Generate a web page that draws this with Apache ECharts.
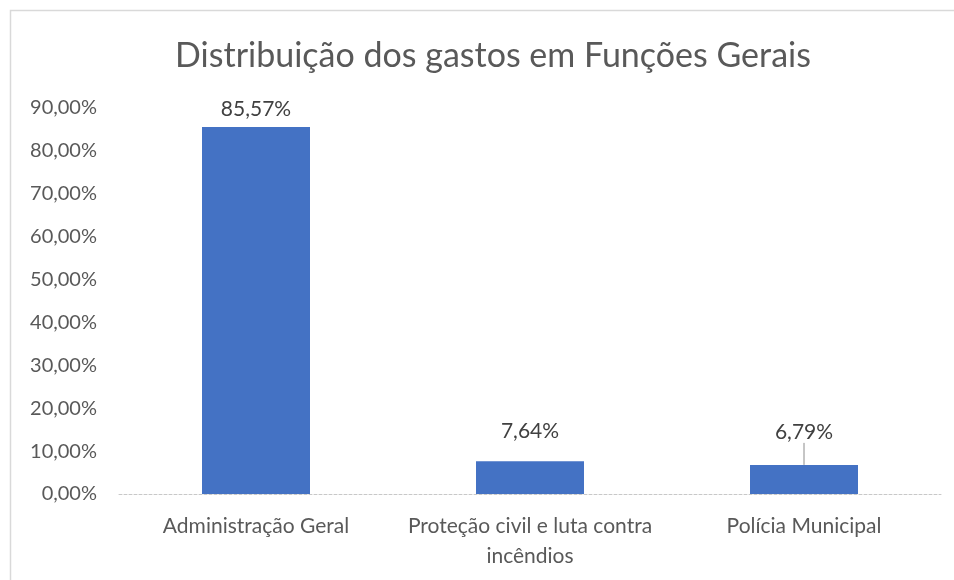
<!DOCTYPE html>
<html>
<head>
<meta charset="utf-8">
<script src="https://cdn.jsdelivr.net/npm/echarts@6/dist/echarts.min.js"></script>
<style>
    html, body { margin: 0; padding: 0; background: #fff; }
    #chart { width: 954px; height: 580px; }
</style>
</head>
<body>
<div id="chart"></div>
<script>
const title = "Distribuição dos gastos em Funções Gerais";
const categories = ["Administração Geral", "Proteção civil e luta contra\nincêndios", "Polícia Municipal"];
const values = [85.57, 7.64, 6.79];
const yTicks = { min: 0, max: 90, interval: 10 };

const font = "Lato";
const textColor = "#595959";

const fmt = v => v.toFixed(2).replace(".", ",") + "%";

const option = {
    backgroundColor: "#fff",
    animation: false,
    title: {
        text: title,
        left: 488,
        top: 34,
        textAlign: "center",
        textStyle: { fontFamily: font, fontSize: 34, fontWeight: "normal", color: textColor }
    },
    graphic: [{
        type: "polyline",
        shape: { points: [[10.5, 580], [10.5, 10.5], [954, 10.5]] },
        style: { stroke: "#d9d9d9", lineWidth: 1.5, fill: null }
    }],
    grid: { left: 119, right: 13, top: 108, bottom: 86 },
    xAxis: {
        type: "category",
        data: categories,
        axisLine: { lineStyle: { color: "#c8c8c8", type: [3, 2] } },
        axisTick: { show: false },
        axisLabel: {
            fontFamily: font, fontSize: 21, color: textColor, margin: 17, lineHeight: 30, interval: 0
        }
    },
    yAxis: {
        type: "value",
        min: yTicks.min,
        max: yTicks.max,
        interval: yTicks.interval,
        splitLine: { show: false },
        axisLine: { show: false },
        axisTick: { show: false },
        axisLabel: {
            fontFamily: font, fontSize: 20, color: textColor, margin: 22,
            formatter: fmt
        }
    },
    series: [{
        type: "bar",
        barWidth: 108,
        data: values.map((v, i) => i === 2 ? { value: v, labelLine: { show: true } } : v),
        itemStyle: { color: "#4472C4" },
        label: {
            show: true,
            position: "top",
            distance: 7,
            fontFamily: font,
            fontSize: 21,
            color: "#404040",
            formatter: p => fmt(p.value)
        },
        labelLine: { lineStyle: { color: "#8c8c8c", width: 1 } },
        labelLayout: p => p.dataIndex === 1 ? { dy: -12 } : p.dataIndex === 2 ? { dy: -15 } : {}
    }]
};

const chart = echarts.init(document.getElementById("chart"));
chart.setOption(option);
</script>
</body>
</html>
